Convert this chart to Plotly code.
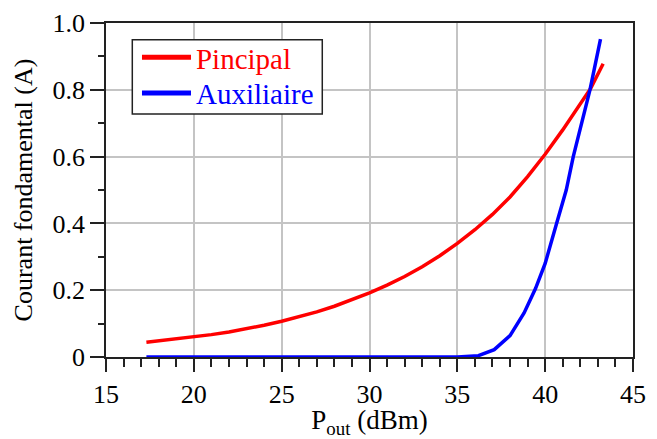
import plotly.graph_objects as go

# Pincipal (red)
x_principal = [17.3, 18, 19, 20, 21, 22, 23, 24, 25, 26, 27, 28, 29, 30, 31, 32, 33, 34,
               35, 36, 37, 38, 39, 40, 41, 42, 42.6, 43.3]
y_principal = [0.044, 0.048, 0.054, 0.060, 0.067, 0.075, 0.084, 0.095, 0.107, 0.120, 0.135,
               0.152, 0.171, 0.192, 0.215, 0.241, 0.270, 0.303, 0.340, 0.381, 0.427, 0.479,
               0.540, 0.607, 0.680, 0.760, 0.805, 0.878]

# Auxiliaire (blue)
x_aux = [17.3, 20, 25, 30, 35, 36.2, 37.1, 38.0, 38.8, 39.45, 40.0, 40.65, 41.2, 41.6, 42.1, 42.55, 43.15]
y_aux = [0.0, 0.0, 0.0, 0.0, 0.0, 0.004, 0.022, 0.064, 0.132, 0.205, 0.28, 0.40, 0.50, 0.60, 0.70, 0.80, 0.952]

series_names = ["Pincipal", "Auxiliaire"]
series_colors = ["#ff0000", "#0000ff"]

y_tickvals = [0, 0.2, 0.4, 0.6, 0.8, 1.0]
y_ticktext = ["0", "0.2", "0.4", "0.6", "0.8", "1.0"]
x_tickvals = [15, 20, 25, 30, 35, 40, 45]

FONT = "Liberation Serif, DejaVu Serif, serif"

fig = go.Figure()
legend_ids = ["legend", "legend2"]
for xs, ys, nm, col, lg in [(x_principal, y_principal, series_names[0], series_colors[0], legend_ids[0]),
                            (x_aux, y_aux, series_names[1], series_colors[1], legend_ids[1])]:
    fig.add_trace(go.Scatter(x=xs, y=ys, mode="lines",
                             line=dict(color=col, width=3.5),
                             showlegend=False, cliponaxis=False))
    fig.add_trace(go.Scatter(x=[None], y=[None], mode="lines",
                             line=dict(color=col, width=5), legend=lg,
                             name=f"<span style='color:{col}'>{nm}</span>"))

# legend frame
fig.add_shape(type="rect", xref="paper", yref="paper",
              x0=0.0499, x1=0.4104, y0=0.7275, y1=0.950,
              line=dict(color="#222", width=1.5), fillcolor="white", layer="above")

leg_common = dict(xanchor="left", yanchor="middle", bgcolor="rgba(0,0,0,0)",
                  borderwidth=0, font=dict(family=FONT, size=29), itemwidth=49)

fig.update_layout(
    width=657, height=439,
    margin=dict(l=106, r=24, t=23, b=82),
    paper_bgcolor="white", plot_bgcolor="white",
    font=dict(family=FONT, size=26, color="black"),
    showlegend=True,
    legend=dict(x=0.0588, y=0.897, **leg_common),
    legend2=dict(x=0.0588, y=0.790, **leg_common),
    xaxis=dict(range=[15, 45], tickvals=x_tickvals, ticks="outside", ticklen=13,
               tickwidth=1.5, tickcolor="#222",
               minor=dict(dtick=1, ticks="outside", ticklen=8, tickwidth=1.5,
                          tickcolor="#222", showgrid=False),
               showgrid=True, gridcolor="#c4c4c4", gridwidth=1.5,
               showline=True, linecolor="#222", linewidth=1.5, mirror=True,
               zeroline=False, layer="below traces", automargin=False,
               tickfont=dict(family=FONT, size=26),
               title=dict(text="P<sub>out</sub> (dBm)", font=dict(family=FONT, size=27),
                          standoff=8)),
    yaxis=dict(range=[0, 1.0], tickvals=y_tickvals, ticktext=y_ticktext,
               ticks="outside", ticklen=14, tickwidth=1.5, tickcolor="#222",
               minor=dict(dtick=0.1, ticks="outside", ticklen=6, tickwidth=1.5,
                          tickcolor="#222", showgrid=False),
               showgrid=True, gridcolor="#c4c4c4", gridwidth=1.5,
               showline=True, linecolor="#222", linewidth=1.5, mirror=True,
               zeroline=False, layer="below traces", automargin=False,
               tickfont=dict(family=FONT, size=26),
               title=dict(text="Courant fondamental (A)", font=dict(family=FONT, size=26),
                          standoff=12)),
)

fig.write_html("out.html", config={"displayModeBar": False},
               post_script="document.body.style.margin='0';document.body.style.padding='0';")
